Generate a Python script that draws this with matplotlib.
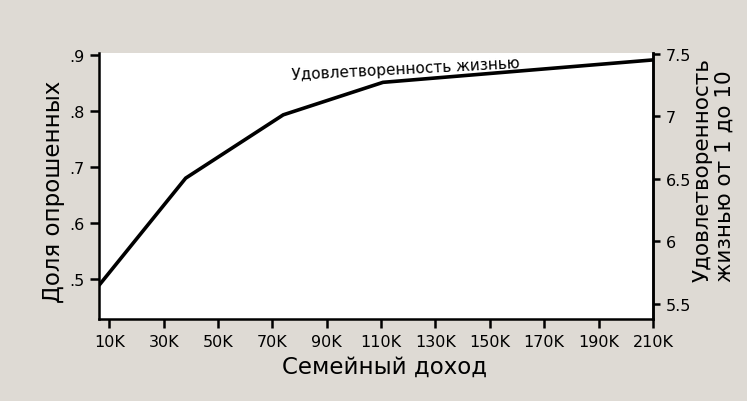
import matplotlib
matplotlib.use("Agg")
import matplotlib.pyplot as plt
from matplotlib.ticker import FixedLocator

plt.rcParams["font.family"] = ["DejaVu Sans"]

# income in thousands, share of respondents (left axis)
income_k = [6.6, 38.1, 74.0, 110.7, 210.0]
share = [0.491, 0.680, 0.793, 0.851, 0.891]

x_ticks = [10, 30, 50, 70, 90, 110, 130, 150, 170, 190, 210]
x_tick_labels = [f"{t}K" for t in x_ticks]
left_ticks = [0.5, 0.6, 0.7, 0.8, 0.9]
left_tick_labels = [".5", ".6", ".7", ".8", ".9"]
right_ticks = [5.5, 6.0, 6.5, 7.0, 7.5]
right_tick_labels = ["5.5", "6", "6.5", "7", "7.5"]

line_label = "Удовлетворенность жизнью"
xlabel = "Семейный доход"
ylabel_left = "Доля опрошенных"
ylabel_right = "Удовлетворенность\nжизнью от 1 до 10"

BG = "#dedad4"

fig = plt.figure(figsize=(7.47, 4.02), dpi=100)
fig.patch.set_facecolor(BG)
ax = fig.add_axes([0.1325, 0.204, 0.7415, 0.662])
ax.set_facecolor("white")

ax.plot(income_k, share, color="black", linewidth=2.6, solid_joinstyle="miter", zorder=3)

ax.set_xlim(6.2, 210)
ax.set_ylim(0.4286, 0.9036)

ax.xaxis.set_major_locator(FixedLocator(x_ticks))
ax.set_xticklabels(x_tick_labels)
ax.yaxis.set_major_locator(FixedLocator(left_ticks))
ax.set_yticklabels(left_tick_labels)

for side in ["left", "bottom", "right"]:
    ax.spines[side].set_linewidth(1.8)
    ax.spines[side].set_color("black")
ax.spines["top"].set_visible(False)

ax.tick_params(axis="both", direction="out", length=6.5, width=1.8,
               labelsize=11.5, colors="black", pad=4)

ax2 = ax.twinx()
ax2.set_ylim(5.38, 7.508)
ax2.yaxis.set_major_locator(FixedLocator(right_ticks))
ax2.set_yticklabels(right_tick_labels)
ax2.tick_params(axis="y", direction="out", length=5, width=1.8,
                labelsize=11.5, colors="black", pad=4)
for side in ["left", "bottom", "top"]:
    ax2.spines[side].set_visible(False)
ax2.spines["right"].set_linewidth(1.8)

# label sits right on the line, tilted with it
ax.text(119, 0.875, line_label, rotation=3, rotation_mode="anchor",
        ha="center", va="center", fontsize=11, color="black", zorder=4)

ax.set_xlabel(xlabel, fontsize=16.5)
ax.xaxis.set_label_coords(0.516, -0.135)
ax.set_ylabel(ylabel_left, fontsize=16.5)
ax.yaxis.set_label_coords(-0.062, 0.48)
ax2.set_ylabel(ylabel_right, fontsize=15.5, multialignment="left", linespacing=1.1)
ax2.yaxis.set_label_coords(1.072, 0.565)

fig.savefig("out.png", dpi=100, facecolor=BG)
